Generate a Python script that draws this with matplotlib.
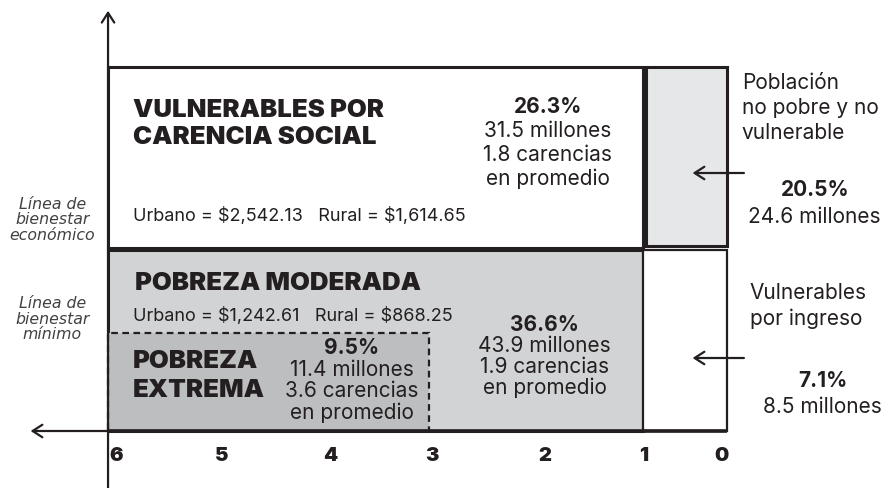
import matplotlib
matplotlib.use("Agg")
import matplotlib.pyplot as plt
from matplotlib.patches import Rectangle

# ---------------------------------------------------------------------------
# Data
# ---------------------------------------------------------------------------
carencias_ticks = ["6", "5", "4", "3", "2", "1", "0"]

# column edges in number of social deprivations (the "0" column is drawn narrow)
edge_max = 6
edge_extreme = 3
edge_one = 1
edge_zero = 0.215

# income levels (schematic units above the x axis)
linea_minimo = 0.98
linea_economico = 1.83
techo = 3.64

groups = ["vulnerables_carencia", "moderada", "extrema", "no_pobre", "vulnerables_ingreso"]
pct = ["26.3%", "36.6%", "9.5%", "20.5%", "7.1%"]
millones = ["31.5 millones", "43.9 millones", "11.4 millones", "24.6 millones", "8.5 millones"]
carencias_prom = ["1.8 carencias", "1.9 carencias", "3.6 carencias", None, None]

lineas_economico = r"Urbano = \$2,542.13   Rural = \$1,614.65"
lineas_minimo = r"Urbano = \$1,242.61   Rural = \$868.25"

INK = "#231f20"
FONT = "Inter"

fig = plt.figure(figsize=(8.91, 4.88), dpi=100)
ax = fig.add_axes([0, 0, 1, 1])
ax.set_xlim(7.01, -1.32)
ax.set_ylim(-0.57, 4.31)
ax.axis("off")


def box(x0, x1, y0, y1, fc, lw=2.2, ls="-", z=1):
    ax.add_patch(Rectangle((x1, y0), x0 - x1, y1 - y0, facecolor=fc,
                           edgecolor=INK, linewidth=lw, linestyle=ls, zorder=z))


# boxes
box(edge_max, edge_one, linea_economico, techo, "white", lw=2.2)
box(edge_one - 0.03, edge_zero, linea_economico + 0.02, techo, "#e6e7e8", lw=2.2)
box(edge_max, edge_one, 0, linea_economico - 0.02, "#d1d3d4", lw=2.2)
box(edge_one, edge_zero, 0, linea_economico - 0.02, "white", lw=1.6)
box(edge_max, edge_extreme, 0, linea_minimo, "#bcbec0", lw=1.6, ls=(0, (3, 2)), z=2)

# axes arrows
ax.annotate("", xy=(edge_max, 4.23), xytext=(edge_max, -0.6),
            arrowprops=dict(arrowstyle="->,head_length=0.7,head_width=0.45",
                            color=INK, lw=1.6), zorder=5)
ax.annotate("", xy=(6.75, 0), xytext=(edge_zero, 0),
            arrowprops=dict(arrowstyle="->,head_length=0.7,head_width=0.45",
                            color=INK, lw=1.6), zorder=5)
ax.plot([edge_max, edge_zero], [0, 0], color=INK, lw=2.6, zorder=4,
        solid_capstyle="butt")

# x tick labels
tick_pos = [5.92, 4.94, 3.92, 2.97, 1.92, 0.99, 0.26]
for p, t in zip(tick_pos, carencias_ticks):
    ax.text(p, -0.25, t, ha="center", va="center", fontsize=14.5,
            fontweight="black", family=FONT, color=INK)

# left italic labels
left_lbl = dict(ha="center", va="center", fontsize=11.3, style="italic",
                family="DejaVu Sans", color="#414042", linespacing=1.05)
ax.text(6.52, 2.11, "Línea de\nbienestar\neconómico", **left_lbl)
ax.text(6.52, 1.12, "Línea de\nbienestar\nmínimo", **left_lbl)

# headings
head = dict(fontsize=18.5, fontweight="black", family=FONT, color=INK, ha="left", va="center")
ax.text(5.77, 3.07, "VULNERABLES POR\nCARENCIA SOCIAL", linespacing=1.25, **head)
ax.text(5.75, 1.48, "POBREZA MODERADA", **head)
ax.text(5.77, 0.55, "POBREZA\nEXTREMA", linespacing=1.35, **head)

body = dict(fontsize=15, family=FONT, color=INK, va="center")
ax.text(5.77, 2.15, lineas_economico, ha="left", fontsize=13, family=FONT, color=INK, va="center")
ax.text(5.77, 1.15, lineas_minimo, ha="left", fontsize=13, family=FONT, color=INK, va="center")


def stats(x, y_top, i, step, ha="center"):
    ax.text(x, y_top, pct[i], ha=ha, fontweight="bold", **body)
    lines = [millones[i]]
    if carencias_prom[i]:
        lines += [carencias_prom[i], "en promedio"]
    for k, s in enumerate(lines):
        ax.text(x, y_top - step * (k + 1), s, ha=ha, **body)


stats(1.89, (431 - 107) / 100, 0, 0.24)
stats(1.92, (431 - 325) / 100, 1, 0.21)
stats(3.72, (431 - 348) / 100, 2, 0.215)
stats(-0.607, (431 - 190) / 100, 3, 0.27)
stats(-0.68, (431 - 381) / 100, 4, 0.26)

ax.text(0.075, 3.23, "Población\nno pobre y no\nvulnerable", ha="left",
        linespacing=1.3, **body)
ax.text(0.0, 1.25, "Vulnerables\npor ingreso", ha="left", linespacing=1.35, **body)

# pointer arrows
for yy in [(431 - 173) / 100, (431 - 358) / 100]:
    ax.annotate("", xy=(0.561, yy), xytext=(0.029, yy),
                arrowprops=dict(arrowstyle="->,head_length=0.7,head_width=0.45",
                                color=INK, lw=1.6), zorder=5)

fig.savefig("out.png", dpi=100)
